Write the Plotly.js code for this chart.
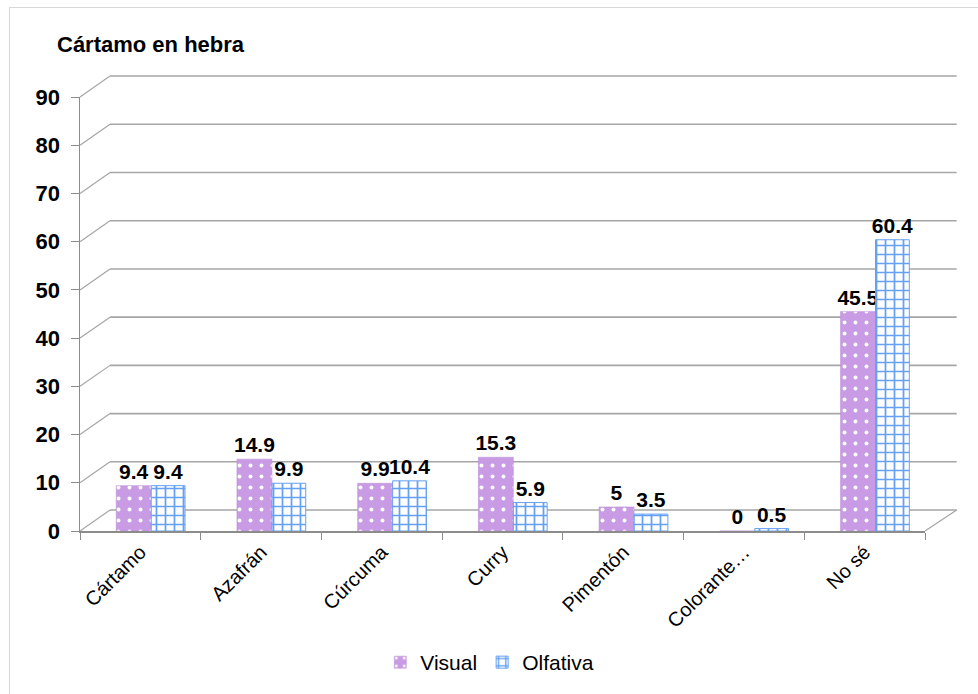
<!DOCTYPE html>
<html>
<head>
<meta charset="utf-8">
<script src="https://cdn.plot.ly/plotly-3.0.1.min.js"></script>
<style>
  html, body { margin: 0; padding: 0; background: #ffffff; }
  #frame { position: absolute; left: 9px; top: 7px; width: 1200px; height: 1200px; border: 1px solid #d9d9d9; box-sizing: border-box; }
  #chart { position: absolute; left: 0; top: 0; width: 978px; height: 694px; }
  body { width: 978px; height: 694px; overflow: hidden; position: relative; }
</style>
</head>
<body>
<div id="frame"></div>
<div id="chart"></div>
<script>
const categories = ['Cártamo', 'Azafrán', 'Cúrcuma', 'Curry', 'Pimentón', 'Colorante…', 'No sé'];
const visual = [9.4, 14.9, 9.9, 15.3, 5, 0, 45.5];
const olfativa = [9.4, 9.9, 10.4, 5.9, 3.5, 0.5, 60.4];
const yTicks = [0, 10, 20, 30, 40, 50, 60, 70, 80, 90];
const chartTitle = 'Cártamo en hebra';

const FONT = '"Liberation Sans", Arial, sans-serif';
const yMax = 90;
const dx = 0.0355, dy = 0.0483;   // back-wall offset (paper units)

const shapes = [];
yTicks.forEach(v => {
  const py = v / yMax;
  shapes.push({type: 'line', xref: 'paper', yref: 'paper', layer: 'below',
    x0: dx, x1: 1 + dx + 0.002, y0: py + dy, y1: py + dy,
    line: {color: '#a6a6a6', width: 1.6}});
  shapes.push({type: 'line', xref: 'paper', yref: 'paper', layer: 'below',
    x0: 0, x1: dx, y0: py, y1: py + dy,
    line: {color: '#a6a6a6', width: 1.2}});
});
shapes.push({type: 'line', xref: 'paper', yref: 'paper', layer: 'below',
  x0: 1, x1: 1 + dx + 0.002, y0: 0, y1: dy,
  line: {color: '#a6a6a6', width: 1.2}});

const labelFont = {family: FONT, size: 21, color: '#000', weight: 'bold'};

const traces = [
  {
    type: 'bar', name: 'Visual', x: categories, y: visual,
    offset: -0.2, width: 0.29,
    text: visual.map(String), textposition: 'outside', cliponaxis: false,
    constraintext: 'none', textfont: labelFont,
    marker: {color: '#c99be4',
      pattern: {shape: '.', fgcolor: '#ffffff', bgcolor: '#c99be4', size: 11, solidity: 0.1},
      line: {color: '#b98bd6', width: 0.5}}
  },
  {
    type: 'bar', name: 'Olfativa', x: categories, y: olfativa,
    offset: 0.09, width: 0.28,
    text: olfativa.map(String), textposition: 'outside', cliponaxis: false,
    constraintext: 'none', textfont: labelFont,
    marker: {color: '#ffffff',
      pattern: {shape: '+', fgcolor: '#64a0f4', bgcolor: '#ffffff', size: 9, solidity: 0.35},
      line: {color: '#64a0f4', width: 1}}
  }
];

const layout = {
  width: 978, height: 694,
  paper_bgcolor: 'rgba(0,0,0,0)', plot_bgcolor: 'rgba(0,0,0,0)',
  margin: {l: 80, r: 53, t: 97, b: 162},
  font: {family: FONT, color: '#000'},
  title: {text: chartTitle, x: 57 / 978, xanchor: 'left', xref: 'container',
    y: 1 - 44 / 694, yanchor: 'middle', yref: 'container',
    font: {family: FONT, size: 22, weight: 'bold', color: '#000'}},
  barmode: 'group', bargap: 0.42, bargroupgap: 0,
  showlegend: true,
  legend: {orientation: 'h', x: 0.485, xanchor: 'center', y: -0.30, yanchor: 'middle',
    font: {family: FONT, size: 21, color: '#000'}, itemwidth: 30, traceorder: 'normal'},
  xaxis: {type: 'category', tickangle: -45, tickson: 'boundaries',
    ticks: 'outside', ticklen: 7, tickcolor: '#8c8c8c', showline: true, linecolor: '#8c8c8c', linewidth: 1.5,
    showgrid: false, tickfont: {family: FONT, size: 20, color: '#000'}},
  yaxis: {range: [0, yMax], tickvals: yTicks, ticks: 'outside', ticklen: 8, tickcolor: '#8c8c8c',
    ticklabelstandoff: 6,
    showline: true, linecolor: '#8c8c8c', linewidth: 1.5, showgrid: false, zeroline: false,
    tickfont: {family: FONT, size: 22, color: '#000', weight: 'bold'}},
  shapes: shapes
};

Plotly.newPlot('chart', traces, layout, {displayModeBar: false, staticPlot: true});
</script>
</body>
</html>
